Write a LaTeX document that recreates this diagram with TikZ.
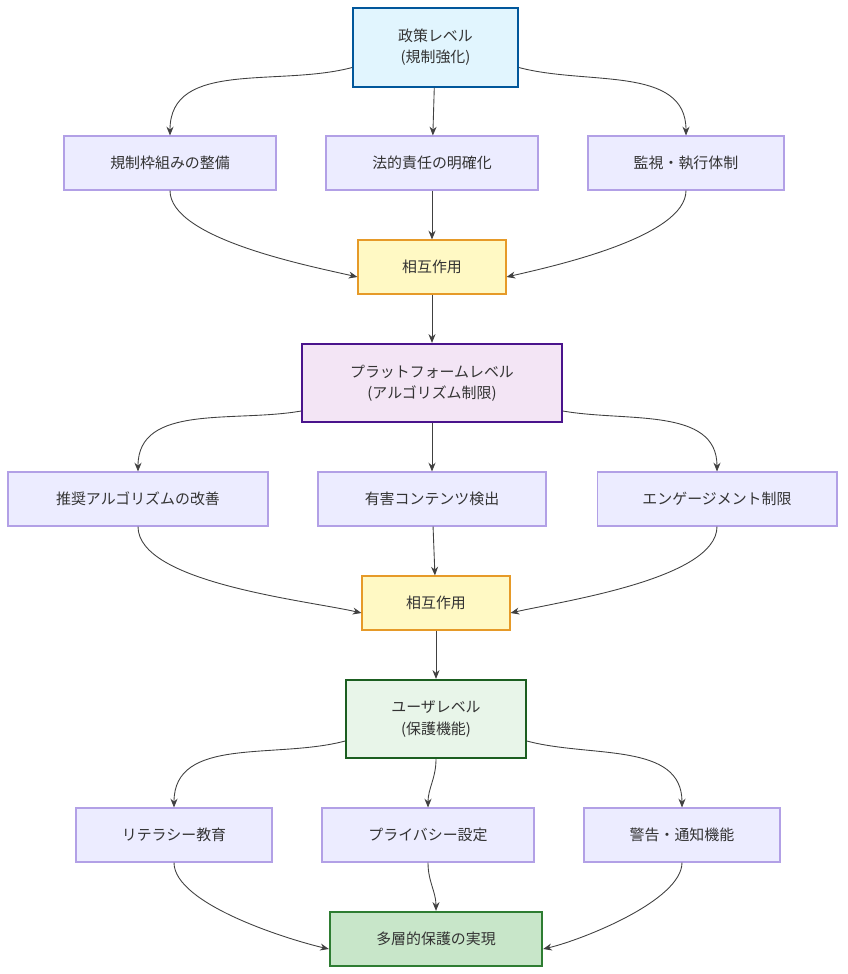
\documentclass[tikz,border=0pt]{standalone}
\usepackage{fontspec}
\setmainfont{Noto Sans CJK JP}
\usetikzlibrary{positioning,arrows.meta}
\definecolor{boxfill}{HTML}{ECECFF}
\definecolor{boxline}{HTML}{B2A0E6}
\definecolor{polfill}{HTML}{E1F5FE}
\definecolor{polline}{HTML}{01579B}
\definecolor{intfill}{HTML}{FFF9C4}
\definecolor{intline}{HTML}{E69A28}
\definecolor{platfill}{HTML}{F3E5F5}
\definecolor{platline}{HTML}{4A148C}
\definecolor{usrfill}{HTML}{E8F5E9}
\definecolor{usrline}{HTML}{1B5E20}
\definecolor{endfill}{HTML}{C8E6C9}
\definecolor{endline}{HTML}{2E7D32}
\begin{document}
\begin{tikzpicture}[x=0.02cm,y=-0.02cm,
  font=\fontsize{8.5}{12}\selectfont,
  box/.style={draw=boxline,fill=boxfill,minimum height=1.08cm,align=center,text=black!80,line width=0.6pt},
  level/.style={box,minimum height=1.57cm,line width=1pt},
  link/.style={draw=black!75,line width=0.5pt,-{Stealth[length=5pt,width=4pt]}}]
  \useasboundingbox (0,0) rectangle (848,974);
  % policy level
  \node [level,draw=polline,fill=polfill,minimum width=3.3cm] (pol) at (435.5,47.5) {政策レベル\\(規制強化)};
  \node [box,minimum width=4.24cm] (reg) at (170,163) {規制枠組みの整備};
  \node [box,minimum width=4.24cm] (law) at (432,163) {法的責任の明確化};
  \node [box,minimum width=3.92cm] (mon) at (686,163) {監視・執行体制};
  \node [box,draw=intline,fill=intfill,minimum width=2.96cm] (intA) at (432,267) {相互作用};
  % platform level
  \node [level,draw=platline,fill=platfill,minimum width=5.2cm] (plat) at (432,383) {プラットフォームレベル\\(アルゴリズム制限)};
  \node [box,minimum width=5.2cm] (rec) at (138,499) {推奨アルゴリズムの改善};
  \node [box,minimum width=4.56cm] (det) at (432,499) {有害コンテンツ検出};
  \node [box,minimum width=4.8cm] (eng) at (717,499) {エンゲージメント制限};
  \node [box,draw=intline,fill=intfill,minimum width=2.96cm] (intB) at (436,603) {相互作用};
  % user level
  \node [level,draw=usrline,fill=usrfill,minimum width=3.6cm] (usr) at (436,719) {ユーザレベル\\(保護機能)};
  \node [box,minimum width=3.92cm] (lit) at (174,835) {リテラシー教育};
  \node [box,minimum width=4.24cm] (pri) at (428,835) {プライバシー設定};
  \node [box,minimum width=3.92cm] (war) at (682,835) {警告・通知機能};
  \node [box,draw=endline,fill=endfill,line width=1.3pt,minimum width=4.24cm] (fin) at (436,939) {多層的保護の実現};

  \draw [link] (pol.west) ++(0,20) to[out=195,in=90] (reg);
  \draw [link] (pol) -- (law);
  \draw [link] (pol.east) ++(0,20) to[out=-15,in=90] (mon);
  \draw [link] (reg) to[out=-90,in=167,looseness=0.6] ([yshift=-0.2cm]intA.west);
  \draw [link] (law) -- (intA);
  \draw [link] (mon) to[out=-90,in=13,looseness=0.6] ([yshift=-0.2cm]intA.east);
  \draw [link] (intA) -- (plat);
  \draw [link] (plat.west) ++(0,28) to[out=190,in=90] (rec);
  \draw [link] (plat) -- (det);
  \draw [link] (plat.east) ++(0,28) to[out=-10,in=90] (eng);
  \draw [link] (rec) to[out=-90,in=167,looseness=0.6] ([yshift=-0.2cm]intB.west);
  \draw [link] (det) -- (intB);
  \draw [link] (eng) to[out=-90,in=13,looseness=0.6] ([yshift=-0.2cm]intB.east);
  \draw [link] (intB) -- (usr);
  \draw [link] (usr.west) ++(0,22) to[out=195,in=90] (lit);
  \draw [link] (usr) to[out=-90,in=90] (pri);
  \draw [link] (usr.east) ++(0,22) to[out=-15,in=90] (war);
  \draw [link] (lit) to[out=-90,in=167,looseness=0.6] ([yshift=-0.2cm]fin.west);
  \draw [link] (pri) to[out=-90,in=90] (fin);
  \draw [link] (war) to[out=-90,in=13,looseness=0.6] ([yshift=-0.2cm]fin.east);
\end{tikzpicture}
\end{document}
